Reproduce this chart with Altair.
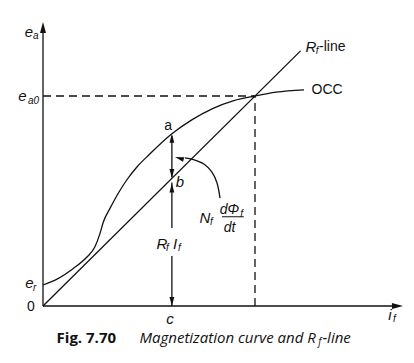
import altair as alt
import pandas as pd

# ---- data (i_f, e_a in arbitrary units; operating point at (10, 10)) ----
occ_if = [0.0, 0.64, 1.43, 2.06, 2.45, 2.69, 2.85, 3.16, 3.55, 3.95, 4.43, 5.0, 6.08, 7.0, 8.0, 9.0, 10.0, 11.0, 12.31]
occ_ea = [1.0, 1.27, 1.79, 2.32, 2.82, 3.46, 4.01, 4.65, 5.37, 6.0, 6.62, 7.2, 8.2, 8.85, 9.4, 9.78, 10.0, 10.18, 10.29]

rf_if = [0.0, 12.15]
rf_ea = [0.0, 12.15]

ea0 = 10.0        # e_a0
if0 = 10.0        # field current at operating point
c_if = 6.08       # point c
a_ea = 8.2        # point a on OCC
b_ea = 6.08       # point b on R_f-line

# curved arrow for N_f dPhi_f/dt
curve_x = [8.35, 8.21, 7.97, 7.59, 7.17, 6.70]
curve_y = [5.14, 5.86, 6.38, 6.76, 6.95, 7.05]

XD = [-1.651, 17.123]
YD = [-2.333, 14.19]
INK = "#111111"
SW = 1.3

xs = alt.Scale(domain=XD, nice=False, zero=False)
ys = alt.Scale(domain=YD, nice=False, zero=False)


def X(f):
    return alt.X(f, type="quantitative", scale=xs, axis=None)


def Y(f):
    return alt.Y(f, type="quantitative", scale=ys, axis=None)


# OCC
occ = alt.Chart(pd.DataFrame({"x": occ_if, "y": occ_ea})).mark_line(
    color=INK, strokeWidth=SW, interpolate="monotone").encode(x=X("x"), y=Y("y"))

# R_f line
rf = alt.Chart(pd.DataFrame({"x": rf_if, "y": rf_ea})).mark_line(
    color=INK, strokeWidth=SW).encode(x=X("x"), y=Y("y"))

# solid segments: axes and vertical measure line
seg = pd.DataFrame({
    "x":  [0.0, 0.0, c_if, c_if, c_if],
    "y":  [0.0, 0.0, 0.0, 3.71, a_ea - 0.1],
    "x2": [0.0, 16.7, c_if, c_if, c_if],
    "y2": [13.3, 0.0, 2.38, b_ea - 0.2, b_ea + 0.05],
})
rules = alt.Chart(seg).mark_rule(color=INK, strokeWidth=SW).encode(
    x=X("x"), y=Y("y"), x2="x2", y2="y2")

# dashed projections
dash = pd.DataFrame({"x": [0.0, if0], "y": [ea0, 0.0], "x2": [if0, if0], "y2": [ea0, ea0]})
dashed = alt.Chart(dash).mark_rule(color=INK, strokeWidth=SW, strokeDash=[8, 5]).encode(
    x=X("x"), y=Y("y"), x2="x2", y2="y2")

# fraction bar
frac = alt.Chart(pd.DataFrame({"x": [8.44], "x2": [9.47], "y": [4.25]})).mark_rule(
    color=INK, strokeWidth=1).encode(x=X("x"), x2="x2", y=Y("y"))

# curved arrow
curve = alt.Chart(pd.DataFrame({"x": curve_x, "y": curve_y, "o": list(range(len(curve_x)))})).mark_line(
    color=INK, strokeWidth=SW, interpolate="cardinal").encode(x=X("x"), y=Y("y"), order="o:Q")

# arrowheads (tip at the data point)
ARROW = "M0,0L-0.27,1L0.27,1Z"
heads = pd.DataFrame({
    "x": [0.0, 16.98, c_if, c_if, c_if, c_if, 6.23],
    "y": [13.52, 0.0, a_ea, b_ea + 0.02, b_ea - 0.25, 0.0, 7.1],
    "ang": [0, 90, 0, 180, 0, 180, 287],
    "sz": [484, 484, 324, 324, 324, 324, 324],
})
arrows = alt.Chart(heads).mark_point(shape=ARROW, filled=True, color=INK, opacity=1, strokeWidth=0).encode(
    x=X("x"), y=Y("y"), angle=alt.Angle("ang:Q", scale=None), size=alt.Size("sz:Q", scale=None, legend=None))


def texts(txt, x, y, size, style="normal", weight="normal", align="center", font="Liberation Sans"):
    df = pd.DataFrame({"t": txt, "x": x, "y": y})
    return alt.Chart(df).mark_text(font=font, fontSize=size, fontStyle=style, fontWeight=weight,
                                   align=align, baseline="middle", color=INK).encode(
        x=X("x"), y=Y("y"), text="t:N")


main_it = texts(["e", "e", "e", "c", "i", "b", "N", "R", "I", "R"],
                [-0.66, -0.97, -0.64, 5.99, 16.37, 6.46, 7.64, 5.61, 6.23, 12.64],
                [13.05, 10.0, 1.10, -0.62, -0.43, 5.90, 4.19, 2.95, 2.95, 12.33],
                15, style="italic")
frac_txt = texts(["dΦ", "dt"], [8.80, 8.80], [4.57, 3.71], 14, style="italic")
subs = texts(["a", "a0", "r", "f", "f", "f", "f", "f", "f"],
             [-0.47, -0.71, -0.47, 16.51, 7.88, 9.30, 5.80, 6.37, 12.87],
             [12.86, 9.76, 0.86, -0.62, 4.0, 4.40, 2.76, 2.76, 12.14],
             10, style="italic", align="left")
upright = texts(["0", "a", "OCC"], [-0.57, 5.90, 13.40], [-0.05, 8.57, 10.29], 14)
line_lbl = texts(["-line"], [13.02], [12.33], 14, align="left")

cap_bold = texts(["Fig. 7.70"], [0.64], [-1.52], 15, weight="bold", align="left", font="Open Sans")
cap_it = texts(["Magnetization curve and R"], [4.55], [-1.52], 15, style="italic", align="left", font="Open Sans")
cap_sub = texts(["f"], [12.98], [-1.70], 10, style="italic", align="left", font="Open Sans")
cap_end = texts(["-line"], [13.18], [-1.52], 15, style="italic", align="left", font="Open Sans")

chart = alt.layer(
    dashed, occ, rf, rules, frac, curve, arrows,
    main_it, frac_txt, subs, upright, line_lbl, cap_bold, cap_it, cap_sub, cap_end
).properties(
    width=398, height=347,
    autosize=alt.AutoSizeParams(type="none"),
    padding=0,
).configure_view(stroke=None)

chart.save("out.html", embed_options={"renderer": "svg", "actions": False})
